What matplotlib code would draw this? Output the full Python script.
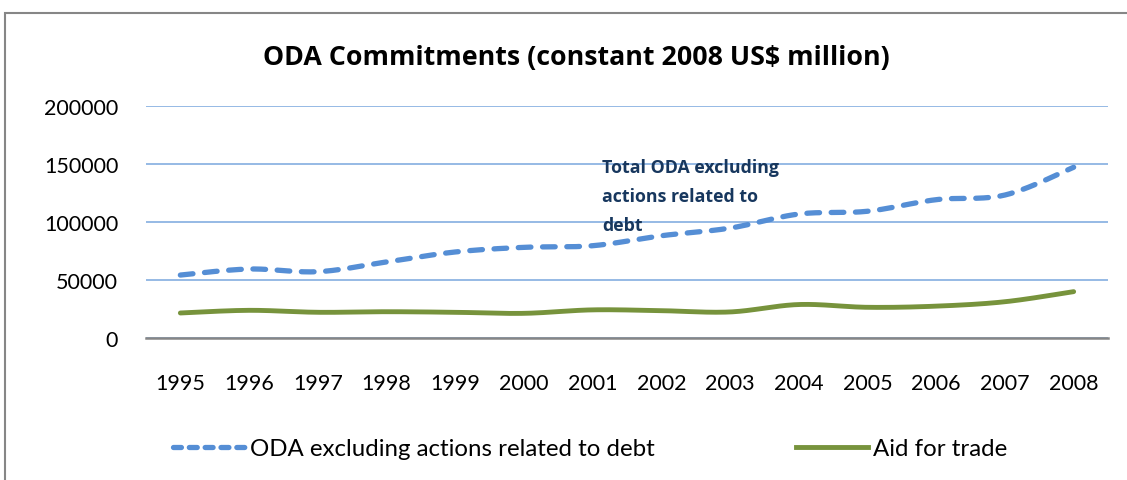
import numpy as np
import matplotlib
matplotlib.use("Agg")
import matplotlib.pyplot as plt
from matplotlib.patches import Rectangle
from matplotlib.lines import Line2D

plt.rcParams['font.family'] = ['Lato', 'DejaVu Sans']

# Data
years = ["1995", "1996", "1997", "1998", "1999", "2000", "2001",
         "2002", "2003", "2004", "2005", "2006", "2007", "2008"]
oda_excl_debt = [54000, 59200, 56900, 65300, 73900, 77900, 79300,
                 87900, 94500, 106600, 109000, 119000, 123000, 146900]
aid_for_trade = [21300, 23600, 21900, 22400, 21900, 21000, 24000,
                 23300, 22200, 28600, 26200, 27200, 31000, 39700]
yticks = [0, 50000, 100000, 150000, 200000]

blue = "#558ED5"
green = "#77933C"
grid_blue = "#8EB4E3"
navy = "#17375E"


def smooth(x, y, steps=30):
    # Excel-style smoothed line: cubic Bezier with Catmull-Rom tangents
    x = np.asarray(x, float)
    y = np.asarray(y, float)
    px = np.concatenate([[x[0]], x, [x[-1]]])
    py = np.concatenate([[y[0]], y, [y[-1]]])
    xs, ys = [], []
    t = np.linspace(0, 1, steps)
    for i in range(1, len(px) - 2):
        p0 = np.array([px[i], py[i]])
        p3 = np.array([px[i + 1], py[i + 1]])
        p1 = p0 + (np.array([px[i + 1], py[i + 1]]) - np.array([px[i - 1], py[i - 1]])) / 6
        p2 = p3 - (np.array([px[i + 2], py[i + 2]]) - np.array([px[i], py[i]])) / 6
        b = ((1 - t) ** 3)[:, None] * p0 + (3 * (1 - t) ** 2 * t)[:, None] * p1 \
            + (3 * (1 - t) * t ** 2)[:, None] * p2 + (t ** 3)[:, None] * p3
        xs.extend(b[:, 0])
        ys.extend(b[:, 1])
    return np.array(xs), np.array(ys)


W, H = 1127, 481
fig = plt.figure(figsize=(W / 100, H / 100), dpi=100)
ax = fig.add_axes([146 / W, 1 - 338.7 / H, (1108 - 146) / W, (338.7 - 106.7) / H])

pos = np.arange(1, len(years) + 1)
sx, sy = smooth(pos, oda_excl_debt)
ax.plot(sx, sy, color=blue, lw=3.8, dashes=(2.4, 2.2),
        dash_capstyle="round", solid_capstyle="round")
sx, sy = smooth(pos, aid_for_trade)
ax.plot(sx, sy, color=green, lw=3.5, solid_capstyle="round")

ax.set_xlim(0.5, len(years) + 0.5)
ax.set_ylim(0, 200000)
ax.set_yticks(yticks)
ax.set_yticklabels([str(v) for v in yticks])
ax.set_xticks(pos)
ax.set_xticklabels(years)
ax.tick_params(axis="both", length=0, labelsize=15.5, colors="black")
ax.tick_params(axis="y", pad=20)
ax.tick_params(axis="x", pad=25.5)

ax.grid(axis="y", color=grid_blue, lw=1.3)
ax.set_axisbelow(True)
for s in ["top", "right", "left"]:
    ax.spines[s].set_visible(False)
ax.spines["bottom"].set_color("#868686")
ax.spines["bottom"].set_linewidth(1.8)
ax.spines["bottom"].set_zorder(3)

ax.text(7.14, 155000, "Total ODA excluding\nactions related to\ndebt",
        color=navy, fontsize=12.8, fontweight="bold", va="top", ha="left",
        linespacing=1.8, family="Open Sans")

fig.text(576 / W, 1 - 58 / H, "ODA Commitments (constant 2008 US$ million)",
         ha="center", va="center", fontsize=19.3, fontweight="bold",
         family="Open Sans")

# chart frame
fig.patches.append(Rectangle((5 / W, -0.1), 1.2, 1.1 - 14 / H,
                             transform=fig.transFigure, fill=False,
                             edgecolor="#868686", lw=1.5))

handles = [Line2D([], [], color=blue, lw=3.8, dashes=(1.5, 1.5),
                  dash_capstyle="round"),
           Line2D([], [], color=green, lw=3.5)]
fig.legend(handles, ["ODA excluding actions related to debt", "Aid for trade"],
           loc="center", bbox_to_anchor=(590 / W, 1 - 450 / H), ncol=2,
           frameon=False, fontsize=17.3, handlelength=3.0, handletextpad=0.2,
           columnspacing=5.9)

fig.savefig("out.png", dpi=100)
